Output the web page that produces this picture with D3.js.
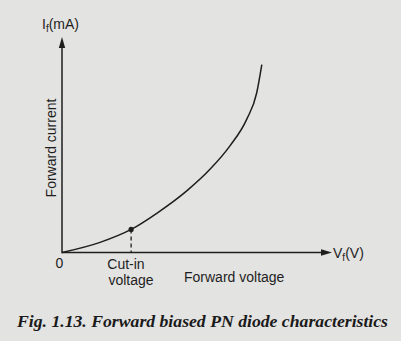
<!DOCTYPE html>
<html><head><meta charset="utf-8">
<script src="https://cdn.jsdelivr.net/npm/d3@7"></script>
<style>
html,body{margin:0;padding:0;background:#e3e3e1;}
svg{display:block;}
</style></head>
<body>
<svg id="chart" width="401" height="341"></svg>
<script>
// Forward voltage (arbitrary units) and forward current (arbitrary units)
const voltage = [0, 1.41, 2.56, 3.51, 4.62, 5.48, 6.22, 6.84, 7.21, 7.40];
const current = [0, 0.47, 1.07, 1.82, 2.86, 3.86, 4.95, 6.18, 7.40, 8.72];
const cutIn = [2.56, 1.07];
const xLabel = "Forward voltage";
const yLabel = "Forward current";
const caption = "Fig. 1.13. Forward biased PN diode characteristics";

const svg = d3.select("#chart");
const W = 401, H = 341;
svg.append("rect").attr("width", W).attr("height", H).attr("fill", "#e3e3e1");

const ox = 62, oy = 252.5;
const x = d3.scaleLinear().domain([0, 10]).range([ox, 332]);
const y = d3.scaleLinear().domain([0, 10]).range([oy, 37]);
const ink = "#1e1e1e";
const font = "Liberation Sans, Arial, sans-serif";

// axes
svg.append("line").attr("x1", x(0)).attr("y1", y(0)).attr("x2", x(10) - 8).attr("y2", y(0))
  .attr("stroke", ink).attr("stroke-width", 1.5);
svg.append("line").attr("x1", x(0)).attr("y1", y(0) + 0.7).attr("x2", x(0)).attr("y2", y(10) + 8)
  .attr("stroke", ink).attr("stroke-width", 1.5);
// arrowheads
svg.append("path").attr("d", `M${x(10)},${y(0)} L${x(10) - 11},${y(0) - 3.2} L${x(10) - 11},${y(0) + 3.2} Z`).attr("fill", ink);
svg.append("path").attr("d", `M${x(0)},${y(10)} L${x(0) - 3.2},${y(10) + 11} L${x(0) + 3.2},${y(10) + 11} Z`).attr("fill", ink);

// curve
const pts = voltage.map((v, i) => [v, current[i]]);
const line = d3.line().x(d => x(d[0])).y(d => y(d[1])).curve(d3.curveMonotoneX);
svg.append("path").attr("d", line(pts)).attr("fill", "none").attr("stroke", ink).attr("stroke-width", 1.5);

// cut-in marker
svg.append("line").attr("x1", x(cutIn[0])).attr("y1", y(cutIn[1])).attr("x2", x(cutIn[0])).attr("y2", y(0))
  .attr("stroke", ink).attr("stroke-width", 1.3).attr("stroke-dasharray", "4,3");
svg.append("circle").attr("cx", x(cutIn[0])).attr("cy", y(cutIn[1])).attr("r", 2.6).attr("fill", ink);

// labels
const t = (txt, xx, yy, anchor, size) => svg.append("text").attr("x", xx).attr("y", yy)
  .attr("text-anchor", anchor || "start").attr("font-family", font).attr("font-size", size || 14)
  .attr("fill", ink).text(txt);

t("0", 59.5, 268, "middle");
t("Cut-in", 126, 269, "middle");
t("voltage", 131, 285, "middle");
t(xLabel, 184, 282, "start");

const vf = svg.append("text").attr("x", 333).attr("y", 257.5).attr("font-family", font).attr("font-size", 14).attr("fill", ink);
vf.append("tspan").text("V");
vf.append("tspan").attr("font-size", 10).attr("dy", 3).text("f");
vf.append("tspan").attr("dy", -3).text("(V)");

const yl = svg.append("text").attr("x", 42).attr("y", 29).attr("font-family", font).attr("font-size", 14).attr("fill", ink);
yl.append("tspan").text("I");
yl.append("tspan").attr("font-size", 10).attr("dy", 3).text("f");
yl.append("tspan").attr("dy", -3).text("(mA)");

svg.append("text").attr("transform", "translate(56,148) rotate(-90)").attr("text-anchor", "middle")
  .attr("font-family", font).attr("font-size", 14).attr("fill", ink).text(yLabel);

svg.append("text").attr("x", 17).attr("y", 327).attr("font-family", "Liberation Serif, Times New Roman, serif")
  .attr("font-size", 17).attr("font-weight", "bold").attr("font-style", "italic").attr("fill", "#1a1a1a")
  .attr("textLength", 371).attr("lengthAdjust", "spacingAndGlyphs").text(caption);
</script>
</body></html>
